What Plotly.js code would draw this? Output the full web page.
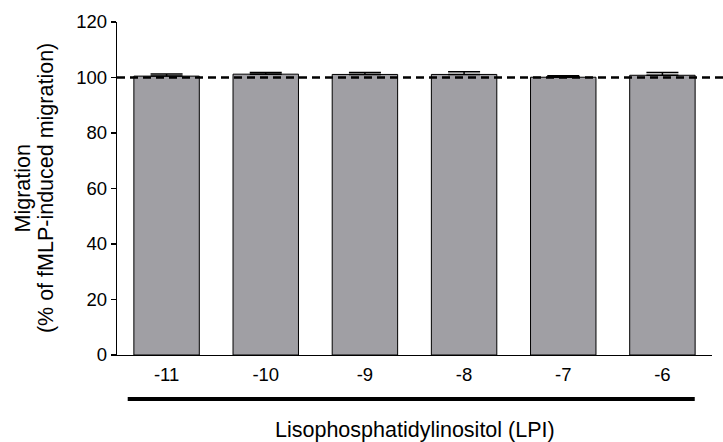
<!DOCTYPE html>
<html>
<head>
<meta charset="utf-8">
<script src="https://cdn.plot.ly/plotly-3.0.1.min.js"></script>
<style>html,body{margin:0;padding:0;background:#fff}#chart{width:723px;height:442px}</style>
</head>
<body>
<div id="chart"></div>
<script>
const categories = ["-11", "-10", "-9", "-8", "-7", "-6"];
const migration = [100.5, 101.2, 101.1, 101.1, 100.1, 100.8];
const errorUp = [0.8, 0.6, 0.7, 1.0, 0.5, 1.0];
const yTicks = [0, 20, 40, 60, 80, 100, 120];
const referenceLevel = 100;
const xTitle = "Lisophosphatidylinositol (LPI)";
const yTitleLines = ["Migration", "(% of fMLP-induced migration)"];

const family = "Liberation Sans, Arial, sans-serif";
const tickFont = {family: family, size: 18.5, color: "#000"};
const titleFont = {family: family, size: 21.5, color: "#000"};

const trace = {
  type: "bar",
  x: categories,
  y: migration,
  marker: {color: "#a09fa4", line: {color: "#000", width: 1}},
  error_y: {type: "data", symmetric: false, array: errorUp, arrayminus: errorUp.map(() => 0),
            color: "#000", thickness: 1.5, width: 16},
  hoverinfo: "none"
};

const layout = {
  width: 723, height: 442,
  margin: {l: 117, r: 11, t: 22, b: 87},
  paper_bgcolor: "#fff", plot_bgcolor: "#fff",
  font: tickFont,
  showlegend: false,
  bargap: 0.34,
  xaxis: {
    type: "category", range: [-0.5, 5.5],
    showline: true, linecolor: "#000", linewidth: 1.2,
    ticks: "", showgrid: false, zeroline: false,
    tickfont: tickFont, ticklabelstandoff: 3
  },
  yaxis: {
    range: [0, 120], tickvals: yTicks, ticktext: yTicks.map(String),
    showline: true, linecolor: "#000", linewidth: 1.2,
    ticks: "outside", ticklen: 5, tickwidth: 1.2, tickcolor: "#000",
    showgrid: false, zeroline: false, tickfont: tickFont
  },
  shapes: [
    {type: "line", xref: "paper", yref: "y", x0: 0, x1: 1.02, y0: referenceLevel, y1: referenceLevel,
     line: {color: "#000", width: 2.6, dash: "8px,5px"}},
    {type: "line", xref: "paper", yref: "paper", x0: 0.018, x1: 0.971, y0: -0.132, y1: -0.132,
     line: {color: "#000", width: 4}}
  ],
  annotations: [
    {text: xTitle, xref: "paper", yref: "paper", x: 0.5, y: -0.226, xanchor: "center", yanchor: "middle",
     showarrow: false, font: titleFont},
    {text: yTitleLines[0], xref: "paper", yref: "paper", x: -0.158, y: 0.5, xanchor: "center", yanchor: "middle",
     textangle: -90, showarrow: false, font: titleFont},
    {text: yTitleLines[1], xref: "paper", yref: "paper", x: -0.12, y: 0.5, xanchor: "center", yanchor: "middle",
     textangle: -90, showarrow: false, font: titleFont}
  ]
};

Plotly.newPlot("chart", [trace], layout, {staticPlot: true, displayModeBar: false});
</script>
</body>
</html>
